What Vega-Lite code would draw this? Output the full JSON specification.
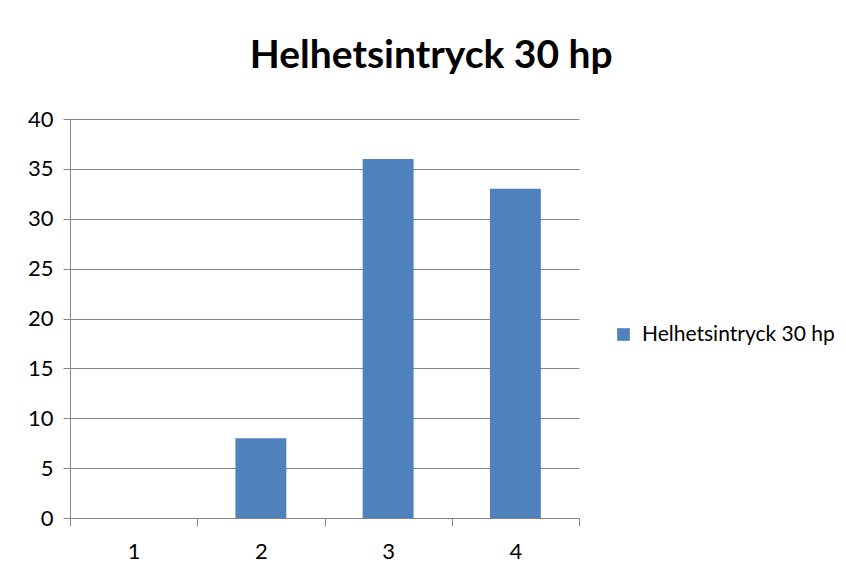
{
  "$schema": "https://vega.github.io/schema/vega-lite/v6.json",
  "autosize": "none",
  "width": 509,
  "height": 399,
  "padding": {"left": 70, "top": 119, "right": 267, "bottom": 61},
  "background": "white",
  "title": {
    "text": "Helhetsintryck 30 hp",
    "font": "Lato",
    "fontSize": 39,
    "fontWeight": "bold",
    "color": "#000000",
    "anchor": "middle",
    "frame": "bounds",
    "offset": 32
  },
  "config": {
    "view": {"stroke": null},
    "font": "Lato"
  },
  "data": {
    "values": [
      {"kategori": "1", "serie": "Helhetsintryck 30 hp", "antal": 0},
      {"kategori": "2", "serie": "Helhetsintryck 30 hp", "antal": 8},
      {"kategori": "3", "serie": "Helhetsintryck 30 hp", "antal": 36},
      {"kategori": "4", "serie": "Helhetsintryck 30 hp", "antal": 33}
    ]
  },
  "mark": {"type": "bar", "width": {"band": 0.4}},
  "encoding": {
    "x": {
      "field": "kategori",
      "type": "nominal",
      "scale": {"paddingInner": 0, "paddingOuter": 0},
      "axis": {
        "title": null,
        "labelAngle": 0,
        "labelFont": "Lato",
        "labelFontSize": 22,
        "labelColor": "#000000",
        "labelPadding": 15,
        "domainColor": "#868686",
        "tickColor": "#868686",
        "tickSize": 8,
        "tickBand": "extent",
        "grid": false
      }
    },
    "y": {
      "field": "antal",
      "type": "quantitative",
      "scale": {"domain": [0, 40], "nice": false},
      "axis": {
        "title": null,
        "values": [0, 5, 10, 15, 20, 25, 30, 35, 40],
        "labelFont": "Lato",
        "labelFontSize": 22,
        "labelColor": "#000000",
        "labelPadding": 10,
        "domainColor": "#868686",
        "tickColor": "#868686",
        "tickSize": 7,
        "gridColor": "#868686",
        "gridWidth": 1
      }
    },
    "color": {
      "field": "serie",
      "type": "nominal",
      "scale": {"range": ["#4F81BD"]},
      "legend": {
        "title": null,
        "orient": "none",
        "legendX": 543,
        "legendY": 205,
        "symbolType": "square",
        "symbolSize": 160,
        "symbolStrokeWidth": 0,
        "labelFont": "Lato",
        "labelFontSize": 21,
        "labelColor": "#000000",
        "labelOffset": 8,
        "labelLimit": 400
      }
    }
  }
}
